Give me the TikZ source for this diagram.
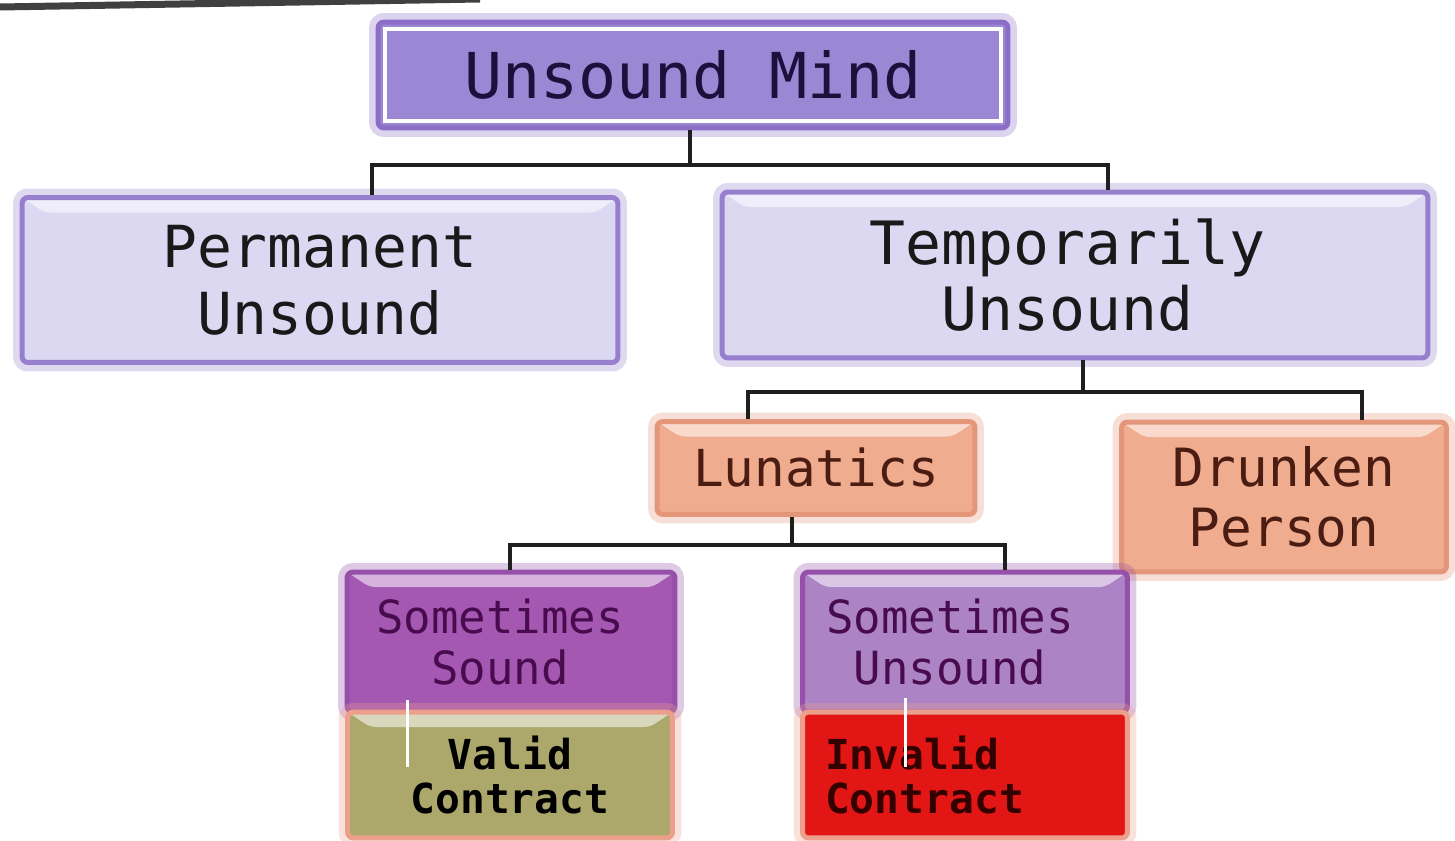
\documentclass[tikz,border=0pt]{standalone}
\usepackage{fontspec}
\newfontfamily\boxfont{DejaVu Sans Mono}
\usetikzlibrary{calc}

\definecolor{mindfill}{RGB}{155,135,212}
\definecolor{mindedge}{RGB}{140,110,200}
\definecolor{lavfill}{RGB}{220,216,242}
\definecolor{lavedge}{RGB}{150,128,205}
\definecolor{peachfill}{RGB}{240,172,142}
\definecolor{peachedge}{RGB}{228,150,122}
\definecolor{soundfill}{RGB}{165,88,178}
\definecolor{soundedge}{RGB}{150,80,170}
\definecolor{unsoundfill}{RGB}{172,132,198}
\definecolor{validfill}{RGB}{172,168,108}
\definecolor{invalidfill}{RGB}{226,22,20}
\definecolor{contractedge}{RGB}{236,160,140}
\definecolor{navytext}{RGB}{30,15,60}
\definecolor{browntext}{RGB}{75,28,18}
\definecolor{plumtext}{RGB}{72,12,78}

\begin{document}
\begin{tikzpicture}[x=0.02cm,y=-0.02cm]

\tikzset{
    box/.style 2 args={rectangle, fill=#1, draw=#2, line width=0.1cm, rounded corners=0.12cm,
        inner sep=0pt, align=center,
        preaction={draw=#2, draw opacity=0.3, line width=0.36cm}},
    bevel/.style={path picture={
        \fill[white,opacity=0.55] (path picture bounding box.north west) -- (path picture bounding box.north east)
            -- ([xshift=-0.45cm,yshift=-0.3cm]path picture bounding box.north east)
            -- ([xshift=0.45cm,yshift=-0.3cm]path picture bounding box.north west) -- cycle;}},
    inner line/.style={path picture={
        \draw[white,line width=0.07cm,rounded corners=0pt]
            ([shift={(0.14cm,-0.14cm)}]path picture bounding box.north west)
            rectangle ([shift={(-0.14cm,0.14cm)}]path picture bounding box.south east);}},
    branch/.style={line width=0.08cm, black!88},
    mark line/.style={white, line width=0.06cm},
}

\useasboundingbox (0,0) rectangle (1455,841);

% torn edge at the top
\draw[line width=0.14cm, black!75] (0,7) -- (480,-1);

% first level
\node (mind) at (693,75) [box={mindfill}{mindedge}, inner line, minimum width=12.6cm, minimum height=2.12cm,
    font=\boxfont\fontsize{36}{40}\selectfont, text=navytext] {Unsound Mind};

\node (perm) at (320,280) [box={lavfill}{lavedge}, bevel, minimum width=11.92cm, minimum height=3.3cm,
    font=\boxfont\fontsize{33}{38}\selectfont, text=black!90] {Permanent\\Unsound};
\node (temp) at (1075,275) [box={lavfill}{lavedge}, bevel, minimum width=14.12cm, minimum height=3.32cm,
    font=\boxfont\fontsize{34}{38}\selectfont, text=black!90] {Temporarily\hspace*{0.3cm}\\Unsound\hspace*{0.3cm}};

% second level
\node (lun) at (816,468) [box={peachfill}{peachedge}, bevel, minimum width=6.36cm, minimum height=1.86cm,
    font=\boxfont\fontsize{29}{33}\selectfont, text=browntext] {Lunatics};
\node (drunk) at (1284,497) [box={peachfill}{peachedge}, bevel, minimum width=6.5cm, minimum height=3cm,
    font=\boxfont\fontsize{30}{34}\selectfont, text=browntext] {Drunken\\Person};

% third level
\node (ssound) at (511,642) [box={soundfill}{soundedge}, bevel, minimum width=6.56cm, minimum height=2.8cm,
    font=\boxfont\fontsize{26}{29}\selectfont, text=plumtext] {Sometimes\hspace*{0.44cm}\\Sound\hspace*{0.44cm}};
\node (sunsound) at (965,642) [box={unsoundfill}{soundedge}, bevel, minimum width=6.5cm, minimum height=2.8cm,
    font=\boxfont\fontsize{26}{29}\selectfont, text=plumtext] {Sometimes\hspace*{0.6cm}\\Unsound\hspace*{0.6cm}};

\node (valid) at (510,775) [box={validfill}{contractedge}, bevel, minimum width=6.5cm, minimum height=2.52cm,
    font=\boxfont\bfseries\fontsize{23.5}{25.5}\selectfont, text=black] {Valid\\Contract};
\node (invalid) at (965,775) [box={invalidfill}{contractedge}, minimum width=6.5cm, minimum height=2.52cm,
    text width=5.6cm, align=left,
    font=\boxfont\bfseries\fontsize{23.5}{25.5}\selectfont, text=black!80!red] {Invalid\\Contract};

% connectors
\coordinate (j1) at (690,165);
\coordinate (j1l) at (372,165);
\coordinate (j1r) at (1108,165);
\draw[branch] (j1 |- mind.south) -- (j1);
\draw[branch] (j1l |- perm.north) -- (j1l) -- (j1r) -- (j1r |- temp.north);

\coordinate (j2) at (1083,392);
\coordinate (j2l) at (748,392);
\coordinate (j2r) at (1362,392);
\draw[branch] (j2 |- temp.south) -- (j2);
\draw[branch] (j2l |- lun.north) -- (j2l) -- (j2r) -- (j2r |- drunk.north);

\coordinate (j3) at (792,545);
\coordinate (j3l) at (510,545);
\coordinate (j3r) at (1005,545);
\draw[branch] (j3 |- lun.south) -- (j3);
\draw[branch] (j3l |- ssound.north) -- (j3l) -- (j3r) -- (j3r |- sunsound.north);

% small white marks
\draw[mark line] (407,700) -- (407,767);
\draw[mark line] (905,698) -- (905,767);
\end{tikzpicture}
\end{document}
